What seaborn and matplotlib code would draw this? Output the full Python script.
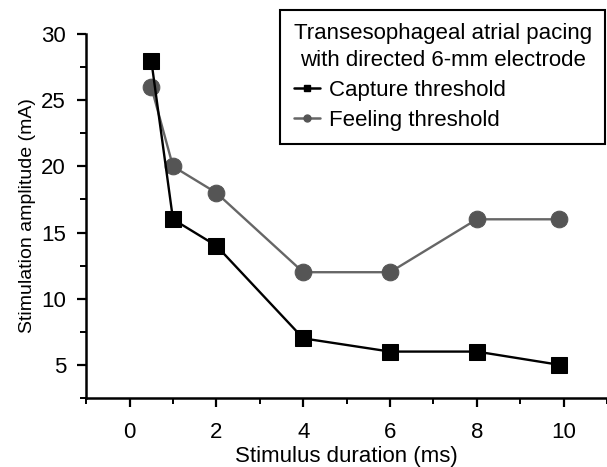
import matplotlib
matplotlib.use("Agg")
import matplotlib.pyplot as plt
from matplotlib.lines import Line2D
from matplotlib.ticker import MultipleLocator
import seaborn as sns
import pandas as pd

# ── Data ────────────────────────────────────────────────────────────────────
duration_ms = [0.5, 1, 2, 4, 6, 8, 9.9]
capture_ma  = [28, 16, 14, 7, 6, 6, 5]
feeling_ma  = [26, 20, 18, 12, 12, 16, 16]

CAPTURE_COLOR = "#000000"
FEELING_COLOR = "#555555"
FEELING_LINE  = "#666666"

sns.set_style("ticks")
plt.rcParams["font.family"] = ["Liberation Sans", "DejaVu Sans"]
plt.rcParams.update({"text.color": "black", "axes.labelcolor": "black",
                     "xtick.color": "black", "ytick.color": "black",
                     "axes.edgecolor": "black"})

df = pd.DataFrame({"duration": duration_ms, "capture": capture_ma, "feeling": feeling_ma})

fig = plt.figure(figsize=(6.07, 4.67), dpi=100)
ax = fig.add_axes([0.142, 0.148, 0.858, 0.779])

sns.lineplot(data=df, x="duration", y="capture", ax=ax, color=CAPTURE_COLOR,
             marker="s", markersize=11, markeredgecolor=CAPTURE_COLOR,
             linewidth=1.7, zorder=3)
sns.lineplot(data=df, x="duration", y="feeling", ax=ax, color=FEELING_LINE,
             marker="o", markersize=12, markerfacecolor=FEELING_COLOR,
             markeredgecolor=FEELING_COLOR, linewidth=1.7, zorder=2)

ax.set_xlim(-1, 11)
ax.set_ylim(2.5, 30)
ax.xaxis.set_major_locator(MultipleLocator(2))
ax.xaxis.set_minor_locator(MultipleLocator(1))
ax.yaxis.set_minor_locator(MultipleLocator(2.5))
ax.set_yticks([5, 10, 15, 20, 25, 30])

for side in ["top", "right"]:
    ax.spines[side].set_visible(False)
for side in ["left", "bottom"]:
    ax.spines[side].set_linewidth(1.8)
ax.tick_params(which="major", length=6.5, width=1.6, labelsize=16, direction="out")
ax.tick_params(which="minor", length=4, width=1.4, direction="out")
ax.tick_params(axis="x", which="major", pad=11)
ax.tick_params(axis="y", which="major", pad=8)

ax.set_xlabel("Stimulus duration (ms)", fontsize=16, labelpad=2)
ax.set_ylabel("Stimulation amplitude (mA)", fontsize=14, labelpad=4)

handles = [
    Line2D([], [], color=CAPTURE_COLOR, marker="s", markersize=5, linewidth=1.8),
    Line2D([], [], color=FEELING_LINE, marker="o", markersize=5,
           markerfacecolor=FEELING_COLOR, markeredgecolor=FEELING_COLOR, linewidth=1.8),
]
leg = fig.legend(handles, ["Capture threshold", "Feeling threshold"],
                 title="Transesophageal atrial pacing\nwith directed 6-mm electrode",
                 loc="upper right", bbox_to_anchor=(0.997, 0.979), fontsize=16,
                 title_fontsize=16, handlelength=1.2, handletextpad=0.4,
                 frameon=True, fancybox=False, edgecolor="black", framealpha=1,
                 borderpad=0.6, labelspacing=0.4, borderaxespad=0)
leg.get_frame().set_linewidth(1.5)
leg._legend_box.align = "left"
leg.get_title().set_multialignment("center")
leg.get_title().set_linespacing(1.35)

fig.savefig("out.png", dpi=100)
